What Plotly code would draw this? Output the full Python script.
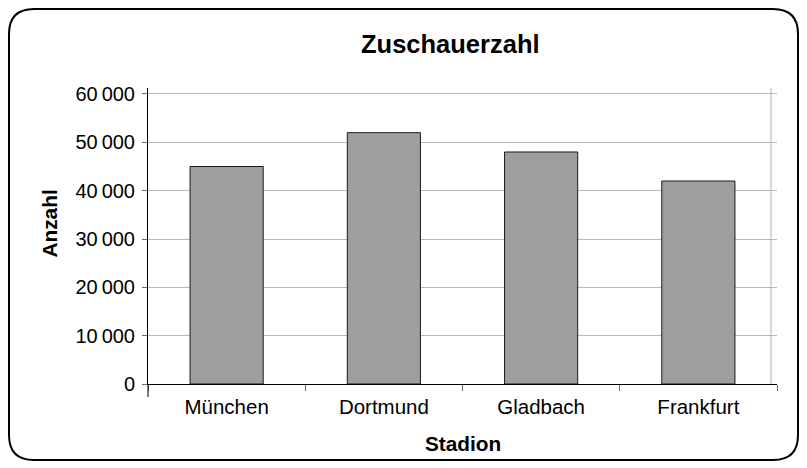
import plotly.graph_objects as go

categories = ["München", "Dortmund", "Gladbach", "Frankfurt"]
values = [45000, 52000, 48000, 42000]
tick_vals = [0, 10000, 20000, 30000, 40000, 50000, 60000]
tick_text = ["0", "10\u2009000", "20\u2009000", "30\u2009000", "40\u2009000", "50\u2009000", "60\u2009000"]

W, H = 807, 468
L, R, T, B = 148, 30, 88, 84
pw, ph = W - L - R, H - T - B

def px(x):
    return (x - L) / pw

def py(y):
    return (H - B - y) / ph

FONT = "Liberation Sans, Arial, sans-serif"

fig = go.Figure(go.Bar(
    x=categories, y=values,
    marker=dict(color="#9e9e9f", line=dict(color="#1a1a1a", width=1)),
    width=0.465,
))

# rounded border
x0, x1, y0, y1, r = px(9), px(798), py(9), py(460), 25
rx, ry = r / pw, r / ph
path = (f"M {x0+rx},{y0} L {x1-rx},{y0} Q {x1},{y0} {x1},{y0-ry} "
        f"L {x1},{y1+ry} Q {x1},{y1} {x1-rx},{y1} "
        f"L {x0+rx},{y1} Q {x0},{y1} {x0},{y1+ry} "
        f"L {x0},{y0-ry} Q {x0},{y0} {x0+rx},{y0} Z")

shapes = [
    dict(type="path", path=path, xref="paper", yref="paper",
         line=dict(color="#000000", width=2), layer="below"),
    dict(type="line", xref="paper", yref="paper", x0=px(771), x1=px(771), y0=0, y1=1,
         line=dict(color="#b0b0b0", width=1)),
    dict(type="line", xref="paper", yref="paper", x0=0, x1=0, y0=0, y1=py(397),
         line=dict(color="#000000", width=1)),
]

fig.update_layout(
    width=W, height=H,
    margin=dict(l=L, r=R, t=T, b=B, pad=0),
    paper_bgcolor="white", plot_bgcolor="white",
    showlegend=False,
    shapes=shapes,
    font=dict(family=FONT, size=21, color="#000000"),
    xaxis=dict(
        range=[-0.5, 3.5], showgrid=False,
        showline=True, linecolor="#000000", linewidth=1,
        ticks="outside", tickson="boundaries", ticklen=6, tickcolor="#707070",
        tickfont=dict(family=FONT, size=20.5, color="#000000"),
        ticklabelstandoff=4,
    ),
    yaxis=dict(
        range=[0, 61240], tickvals=tick_vals, ticktext=tick_text,
        showgrid=True, gridcolor="#b8b8b8", gridwidth=1,
        showline=True, linecolor="#000000", linewidth=1,
        ticks="outside", ticklen=5, tickcolor="#707070",
        tickfont=dict(family=FONT, size=20, color="#000000"),
        zeroline=False,
        ticklabelstandoff=3,
    ),
    annotations=[
        dict(text="<b>Zuschauerzahl</b>", xref="paper", yref="paper",
             x=px(450), y=py(44), xanchor="center", yanchor="middle",
             showarrow=False, font=dict(family=FONT, size=25.5, color="#000000")),
        dict(text="<b>Stadion</b>", xref="paper", yref="paper",
             x=px(462.5), y=py(443), xanchor="center", yanchor="middle",
             showarrow=False, font=dict(family=FONT, size=20.8, color="#000000")),
        dict(text="<b>Anzahl</b>", xref="paper", yref="paper",
             x=px(48.5), y=py(224), xanchor="center", yanchor="middle",
             textangle=-90, showarrow=False,
             font=dict(family=FONT, size=20.8, color="#000000")),
    ],
)

fig.write_html("out.html", config={"displayModeBar": False},
               post_script="document.body.style.margin='0';")
